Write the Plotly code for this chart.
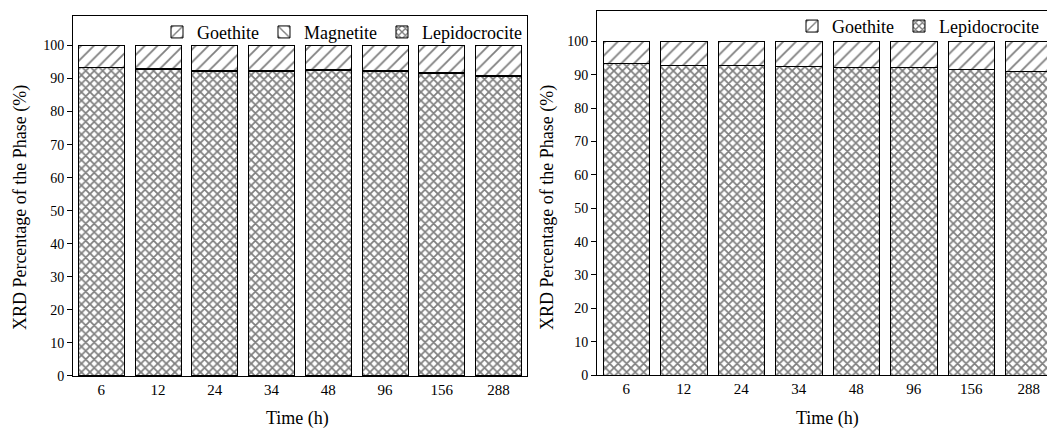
import plotly.graph_objects as go

times = ["6", "12", "24", "34", "48", "96", "156", "288"]

# Left panel
left_lepidocrocite = [93.4, 92.7, 92.2, 92.2, 92.4, 92.2, 91.5, 90.7]
left_magnetite = [0.0, 0.4, 0.3, 0.3, 0.4, 0.2, 0.2, 0.3]
left_goethite = [6.6, 6.9, 7.5, 7.5, 7.2, 7.6, 8.3, 9.0]

# Right panel
right_lepidocrocite = [93.5, 92.7, 92.7, 92.4, 92.3, 92.3, 91.6, 91.0]
right_goethite = [6.5, 7.3, 7.3, 7.6, 7.7, 7.7, 8.4, 9.0]

FONT = "Times New Roman"
W, H = 1047, 437

pat_goe = dict(shape="/", fgcolor="black", bgcolor="white", size=9, solidity=0.2)
pat_mag = dict(shape="\\", fgcolor="black", bgcolor="white", size=9, solidity=0.2)
pat_lep = dict(shape="x", fgcolor="black", bgcolor="white", size=6, solidity=0.5)
line = dict(color="black", width=1)

fig = go.Figure()
fig.add_bar(x=times, y=left_lepidocrocite, name="Lepidocrocite", marker=dict(color="white", pattern=pat_lep, line=line),
            xaxis="x", yaxis="y", legend="legend")
fig.add_bar(x=times, y=left_magnetite, name="Magnetite", marker=dict(color="white", pattern=pat_mag, line=line),
            xaxis="x", yaxis="y", legend="legend")
fig.add_bar(x=times, y=left_goethite, name="Goethite", marker=dict(color="white", pattern=pat_goe, line=line),
            xaxis="x", yaxis="y", legend="legend")

fig.add_bar(x=times, y=right_lepidocrocite, name="Lepidocrocite", marker=dict(color="white", pattern=pat_lep, line=line),
            xaxis="x2", yaxis="y2", legend="legend2")
fig.add_bar(x=times, y=right_goethite, name="Goethite", marker=dict(color="white", pattern=pat_goe, line=line),
            xaxis="x2", yaxis="y2", legend="legend2")

def px_x(p):
    return p / W

def px_y(p):
    return 1 - p / H

ytickfont = dict(family=FONT, size=14, color="black")
xtickfont = dict(family=FONT, size=15, color="black")
yticks = list(range(0, 101, 10))

fig.update_layout(
    width=W, height=H,
    margin=dict(l=0, r=0, t=0, b=0),
    paper_bgcolor="white", plot_bgcolor="white",
    barmode="stack", bargap=0.19,
    font=dict(family=FONT, color="black"),
    xaxis=dict(domain=[px_x(73), px_x(527)], anchor="y", type="category", range=[-0.5, 7.5],
               showline=True, mirror=True, linecolor="black", linewidth=1, ticks="",
               tickfont=xtickfont, showgrid=False),
    yaxis=dict(domain=[px_y(383), px_y(16)], anchor="x", range=[0, 109], tickvals=yticks,
               showline=True, mirror=True, linecolor="black", linewidth=1, ticks="outside",
               ticklen=5, tickcolor="black", tickfont=ytickfont, showgrid=False, zeroline=False),
    xaxis2=dict(domain=[px_x(597), 1.0], anchor="y2", type="category", range=[-0.51, 7.316],
                showline=True, mirror=True, linecolor="black", linewidth=1, ticks="",
                tickfont=xtickfont, showgrid=False),
    yaxis2=dict(domain=[px_y(382), px_y(11.7)], anchor="x2", range=[0, 109], tickvals=yticks,
                showline=True, mirror=False, linecolor="black", linewidth=1, ticks="outside",
                ticklen=5, tickcolor="black", tickfont=ytickfont, showgrid=False, zeroline=False),
    legend=dict(orientation="h", traceorder="reversed", x=px_x(527), xanchor="right",
                y=px_y(14), yanchor="top", font=dict(family=FONT, size=18, color="black"),
                bgcolor="rgba(0,0,0,0)", itemwidth=30),
    legend2=dict(orientation="h", traceorder="reversed", x=px_x(792), xanchor="left",
                 y=px_y(8), yanchor="top", font=dict(family=FONT, size=18, color="black"),
                 bgcolor="rgba(0,0,0,0)", itemwidth=30),
    showlegend=True,
)

title_font = dict(family=FONT, size=18, color="black")
for xx, yy, txt, ang in [
    (20, 212, "XRD Percentage of the Phase (%)", -90),
    (547, 212, "XRD Percentage of the Phase (%)", -90),
    (297, 426, "Time (h)", 0),
    (827, 426, "Time (h)", 0),
]:
    fig.add_annotation(text=txt, textangle=ang, xref="paper", yref="paper",
                       x=px_x(xx), y=px_y(yy), xanchor="center", yanchor="middle",
                       showarrow=False, font=title_font)

fig.write_html("out.html")
